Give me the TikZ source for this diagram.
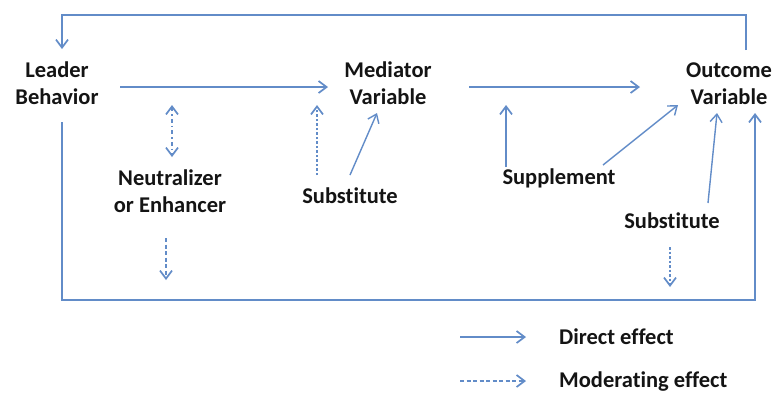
\documentclass[tikz,border=0pt]{standalone}
\usepackage{fontspec}
\setmainfont{Carlito}[Ligatures={NoCommon}]
\usetikzlibrary{arrows.meta}
\definecolor{lineblue}{RGB}{98,140,200}
\definecolor{txt}{RGB}{20,20,20}
\begin{document}
\begin{tikzpicture}[x=1pt,y=-1pt,
  lbl/.style={font=\fontsize{22.5}{27}\selectfont\bfseries, text=txt, inner sep=0pt, anchor=base},
  tipV/.tip={Straight Barb[length=8pt,width=12pt]},
  conn/.style={draw=lineblue, line width=1.7pt, -tipV},
  thinconn/.style={conn, line width=1.4pt},
  moddash/.style={conn, dash pattern=on 4pt off 2.5pt},
  moddot/.style={conn, dash pattern=on 2.5pt off 2pt},
  moddashdot/.style={draw=lineblue, line width=1.7pt, tipV-tipV, dash pattern=on 4pt off 3pt on 1.5pt off 3pt}]
\fill[white] (0,0) rectangle (774,392);
\useasboundingbox (0,0) rectangle (774,392);

% labels
\node[lbl] (leader1) at (57,77) {Leader};
\node[lbl] (leader2) at (57,104) {Behavior};
\node[lbl] (med1) at (388,77) {Mediator};
\node[lbl] (med2) at (388,104) {Variable};
\node[lbl] (out1) at (729,77) {Outcome};
\node[lbl] (out2) at (729,104) {Variable};
\node[lbl] (neu1) at (170,185) {Neutralizer};
\node[lbl] (neu2) at (170,212) {or Enhancer};
\node[lbl] (subm) at (350,203) {Substitute};
\node[lbl] (supp) at (559,184) {Supplement};
\node[lbl] (subo) at (672,228) {Substitute};
\node[lbl, anchor=base west] (ldirect) at (559,344) {Direct effect};
\node[lbl, anchor=base west] (lmod) at (559,387) {Moderating effect};

% connector end points
\coordinate (lbR) at (120,87);   \coordinate (mvL) at (328,87);
\coordinate (mvR) at (469,87);   \coordinate (ovL) at (640,87);
\coordinate (ovTop) at (746,50); \coordinate (lbTop) at (62,49);
\coordinate (lbBot) at (62,122); \coordinate (cornerBL) at (62,300);
\coordinate (ovBot) at (755,113);
\coordinate (linkA) at (172,105); \coordinate (neuTop) at (172,157);
\coordinate (neuBot) at (166,238); \coordinate (neuOut) at (166,280);
\coordinate (submTop) at (317,175); \coordinate (linkB) at (317,105);
\coordinate (submTop2) at (350,175); \coordinate (mvBot) at (377,113);
\coordinate (suppTop) at (506,167); \coordinate (linkC) at (506,105);
\coordinate (suppR) at (603,165); \coordinate (ovBL) at (678,105);
\coordinate (suboTop) at (708,203); \coordinate (ovB) at (717,113);
\coordinate (suboBot) at (670,247); \coordinate (suboOut) at (670,287);
\coordinate (legA1) at (460,337); \coordinate (legA2) at (526,337);
\coordinate (legB1) at (460,381); \coordinate (legB2) at (526,381);

% connectors
\draw[conn] (lbR) -- (mvL);
\draw[conn] (mvR) -- (ovL);
\draw[conn] (ovTop) -- ++(0,-35) -| (lbTop);
\draw[conn] (lbBot) -- (cornerBL) -| (ovBot);
\draw[moddashdot] (linkA) -- (neuTop);
\draw[moddash] (neuBot) -- (neuOut);
\draw[moddot] (submTop) -- (linkB);
\draw[thinconn] (submTop2) -- (mvBot);
\draw[conn] (suppTop) -- (linkC);
\draw[thinconn] (suppR) -- (ovBL);
\draw[thinconn] (suboTop) -- (ovB);
\draw[moddot] (suboBot) -- (suboOut);

% legend
\draw[conn] (legA1) -- (legA2);
\draw[moddash] (legB1) -- (legB2);
\end{tikzpicture}
\end{document}
